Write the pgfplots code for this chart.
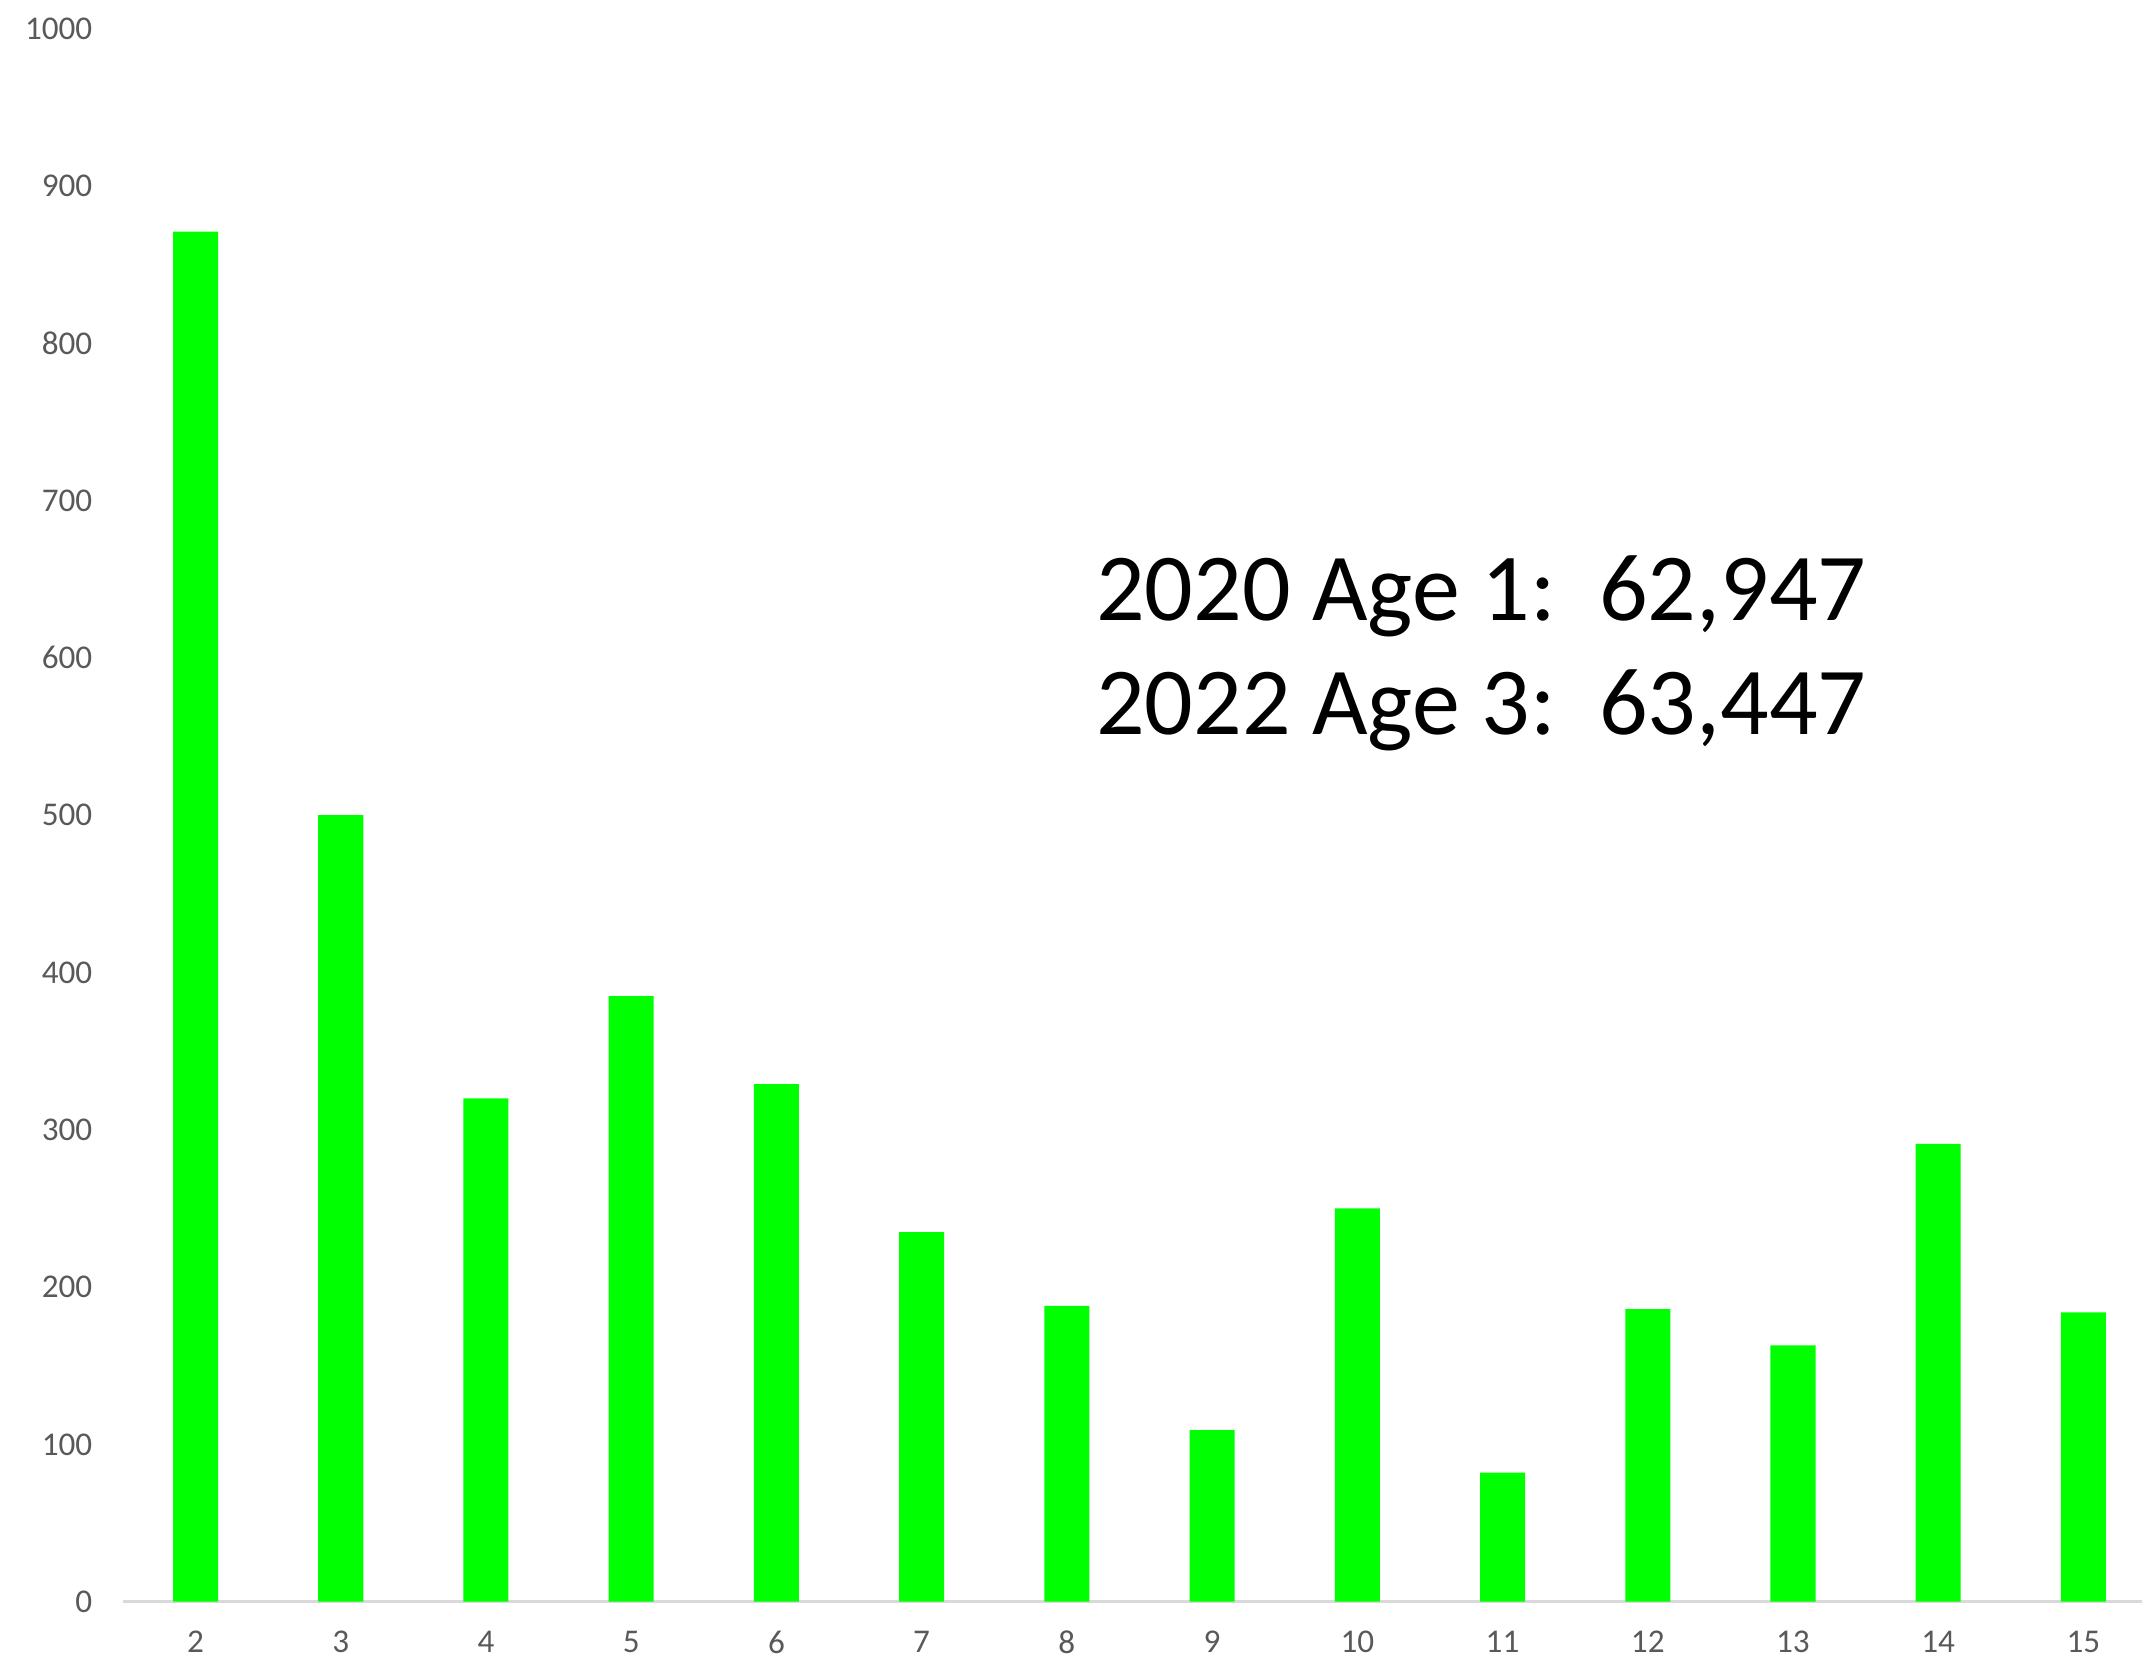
\documentclass[border=0pt]{standalone}
\usepackage{pgfplots}
\pgfplotsset{compat=1.18}
\usepackage{fontspec}
\setmainfont{Carlito}
\definecolor{bargreen}{HTML}{00FF00}
\definecolor{ticktext}{HTML}{595959}
\definecolor{axisgray}{HTML}{D9D9D9}
\begin{document}
\begin{tikzpicture}
\begin{axis}[
  scale only axis, width=505pt, height=393.5pt,
  xmin=1.5, xmax=15.4, ymin=0, ymax=1000,
  axis x line=bottom, axis y line=left,
  x axis line style={axisgray, line width=0.75pt, -},
  y axis line style={draw=none},
  tick style={draw=none},
  xtick={2,...,15}, ytick={0,100,...,1000},
  tick label style={font=\fontsize{8.3}{10}\selectfont, text=ticktext},
  xticklabel style={inner sep=1.2pt},
  /pgf/number format/assume math mode=true,
  /pgf/number format/1000 sep={},
  xticklabel shift=3.8pt,
  yticklabel shift=2pt,
  clip=false,
]
\addplot[ybar, bar width=0.31, fill=bargreen, draw=none] coordinates {
  (2,871) (3,500) (4,320) (5,385) (6,329) (7,235) (8,188)
  (9,109) (10,250) (11,82) (12,186) (13,163) (14,291) (15,184)
};
\node[anchor=west, align=left, inner sep=0pt, font=\fontsize{24}{28.4}\selectfont]
  at (rel axis cs:0.4817,0.603) {2020 Age 1:\ \ 62,947\\2022 Age 3:\ \ 63,447};
\end{axis}
\path ([yshift=7.2pt]current axis.north);
\path ([xshift=-30.75pt]current axis.west);
\path ([yshift=-16.1pt]current axis.south);
\end{tikzpicture}
\end{document}
